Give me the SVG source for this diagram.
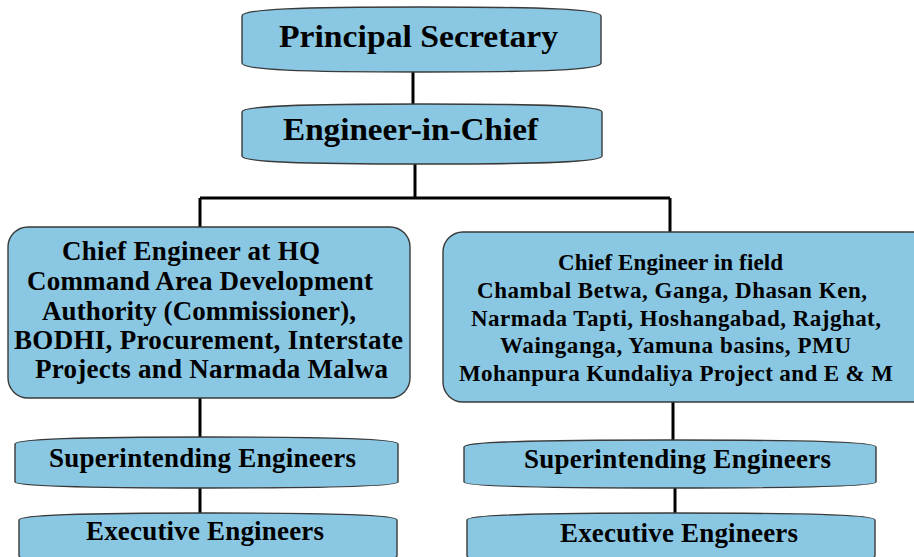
<svg xmlns="http://www.w3.org/2000/svg" width="914" height="557" viewBox="0 0 914 557">
<style>
.box{fill:#8AC7E3;stroke:#3a3a3a;stroke-width:1.4}
.t{font-family:"Liberation Serif","Times New Roman","DejaVu Serif",serif;font-weight:bold;fill:#000}
.conn{stroke:#000;stroke-width:3;fill:none}
</style>
<rect width="914" height="557" fill="#fff"/>
<g id="connectors">
<path class="conn" d="M413,72 V104"/>
<path class="conn" d="M415,164 V198"/>
<path class="conn" d="M200,198 H670"/>
<path class="conn" d="M200,198 V227"/>
<path class="conn" d="M670,198 V232"/>
<path class="conn" d="M200,398 V437"/>
<path class="conn" d="M200,488 V513"/>
<path class="conn" d="M673,402 V440"/>
<path class="conn" d="M675,488 V513"/>
</g>
<g id="principal-secretary">
<path class="box" d="M242,16 C242,9 300,7 421.5,7 C543,7 601,9 601,16 L601,63 C601,70 543,72 421.5,72 C300,72 242,70 242,63 Z"/>
<text class="t" font-family="Liberation Serif, serif" x="279" y="47" font-size="32" textLength="279" lengthAdjust="spacingAndGlyphs">Principal Secretary</text>
</g>
<g id="engineer-in-chief">
<path class="box" d="M242,112 C242,106 300,104 422,104 C544,104 602,106 602,112 L602,156 C602,162 544,164 422,164 C300,164 242,162 242,156 Z"/>
<text class="t" font-family="Liberation Serif, serif" x="283" y="140" font-size="32" textLength="255" lengthAdjust="spacingAndGlyphs">Engineer-in-Chief</text>
</g>
<g id="ce-hq">
<rect class="box" x="8" y="227" width="402" height="171" rx="20" ry="20"/>
<text class="t" font-family="Liberation Serif, serif" font-size="27">
<tspan x="62" y="260" textLength="258">Chief Engineer at HQ</tspan>
<tspan x="27" y="290" textLength="346">Command Area Development</tspan>
<tspan x="42" y="320" textLength="314">Authority (Commissioner),</tspan>
<tspan x="14" y="349" textLength="389">BODHI, Procurement, Interstate</tspan>
<tspan x="35" y="378" textLength="353">Projects and Narmada  Malwa</tspan>
</text>
</g>
<g id="ce-field">
<rect class="box" x="443" y="232" width="490" height="170" rx="20" ry="20"/>
<text class="t" font-family="Liberation Serif, serif" font-size="23">
<tspan x="558" y="270" textLength="225">Chief Engineer in field</tspan>
<tspan x="477" y="298" textLength="390">Chambal Betwa, Ganga, Dhasan Ken,</tspan>
<tspan x="471" y="326" textLength="410">Narmada Tapti, Hoshangabad, Rajghat,</tspan>
<tspan x="500" y="353" textLength="351">Wainganga, Yamuna basins, PMU</tspan>
<tspan x="459" y="381" textLength="434">Mohanpura Kundaliya Project and E &amp; M</tspan>
</text>
</g>
<g id="se-left">
<path class="box" d="M15,444 C15,439 80,437 206.5,437 C333,437 398,439 398,444 L398,482 C398,486 333,488 206.5,488 C80,488 15,486 15,482 Z"/>
<text class="t" font-family="Liberation Serif, serif" x="49" y="467" font-size="27" textLength="307">Superintending Engineers</text>
</g>
<g id="ee-left">
<path class="box" d="M19,520 C19,515 80,513 208,513 C336,513 397,515 397,520 L397,556 C397,561 336,562 208,562 C80,562 19,561 19,556 Z"/>
<text class="t" font-family="Liberation Serif, serif" x="86" y="540" font-size="27" textLength="238">Executive Engineers</text>
</g>
<g id="se-right">
<path class="box" d="M464,447 C464,442 530,440 670,440 C810,440 876,442 876,447 L876,482 C876,486 810,488 670,488 C530,488 464,486 464,482 Z"/>
<text class="t" font-family="Liberation Serif, serif" x="524" y="468" font-size="27" textLength="307">Superintending Engineers</text>
</g>
<g id="ee-right">
<path class="box" d="M467,520 C467,515 530,513 671,513 C812,513 875,515 875,520 L875,556 C875,561 812,562 671,562 C530,562 467,561 467,556 Z"/>
<text class="t" font-family="Liberation Serif, serif" x="560" y="542" font-size="27" textLength="238">Executive Engineers</text>
</g>
</svg>
